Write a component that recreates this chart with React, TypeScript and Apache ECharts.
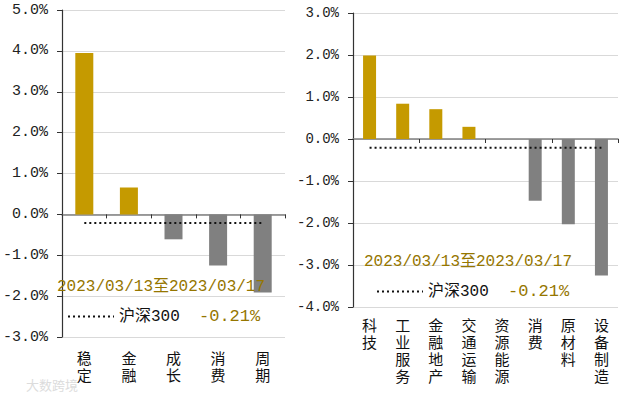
import React, { useEffect, useRef } from "react";
import * as echarts from "echarts";

const leftCats = ["稳定", "金融", "成长", "消费", "周期"];
const leftVals = [3.95, 0.66, -0.61, -1.25, -1.91];
const rightCats = ["科技", "工业服务", "金融地产", "交通运输", "资源能源", "消费", "原材料", "设备制造"];
const rightVals = [1.99, 0.84, 0.71, 0.29, 0.0, -1.47, -2.03, -3.25];
const hs300Name = "沪深300";
const hs300Value = -0.21;
const periodText = "2023/03/13至2023/03/17";
const leftTicks = { min: -3, max: 5, interval: 1 };
const rightTicks = { min: -4, max: 3, interval: 1 };

const GOLD = "#C59A00";
const GRAY = "#808080";
const TEXT_GOLD = "#957600";
const MONO = "Liberation Mono, Noto Sans CJK SC, monospace";
const CJK = "Noto Sans CJK SC, sans-serif";
const CHAR_PITCH = 17;

const pct = (v: number) => v.toFixed(1) + "%";

function yAxis(gridIndex: number, t: { min: number; max: number; interval: number }, fs: number) {
  return {
    type: "value",
    gridIndex,
    min: t.min,
    max: t.max,
    interval: t.interval,
    axisLine: { show: true, lineStyle: { color: "#333", width: 1.2 } },
    axisTick: { show: true, length: 5, lineStyle: { color: "#333" } },
    axisLabel: { formatter: pct, color: "#222", fontSize: fs, fontFamily: MONO, margin: 14 },
    splitLine: { show: true, lineStyle: { color: "#D9D9D9", width: 1 } },
  };
}

function zeroAxis(gridIndex: number, cats: string[]) {
  return {
    type: "category",
    gridIndex,
    data: cats,
    position: "bottom",
    axisLine: { show: true, onZero: true, lineStyle: { color: GRAY, width: 1.5 } },
    axisTick: { show: true, length: 4, lineStyle: { color: "#333" } },
    axisLabel: { show: false },
  };
}

// one axis per character row, so category names read top to bottom
function labelAxes(gridIndex: number, cats: string[], margin: number) {
  const rows = Math.max(...cats.map((c) => c.length));
  const out: any[] = [];
  for (let i = 0; i < rows; i++) {
    out.push({
      type: "category",
      gridIndex,
      data: cats,
      position: "bottom",
      axisLine: { show: false, onZero: false },
      axisTick: { show: false },
      axisLabel: {
        formatter: (s: string) => s.charAt(i),
        color: "#111",
        fontSize: 15,
        fontFamily: CJK,
        margin: margin + i * CHAR_PITCH,
        verticalAlign: "top",
        interval: 0,
      },
    });
  }
  return out;
}

function barColor(p: any) {
  return p.value >= 0 ? GOLD : GRAY;
}

export default function App() {
  const ref = useRef<HTMLDivElement>(null);
  useEffect(() => {
    if (!ref.current) return;
    const chart = echarts.init(ref.current, null, { renderer: "svg" });
    const legendCommon = {
      data: [hs300Name],
      orient: "horizontal",
      itemWidth: 46,
      itemHeight: 14,
      padding: 0,
      selectedMode: false,
      itemStyle: { opacity: 0 },
      lineStyle: { color: "#111", width: 2, type: [2, 3] },
      formatter: (n: string) => `{a|${n}}{b|${hs300Value.toFixed(2)}%}`,
      textStyle: {
        rich: {
          a: { fontSize: 16, fontFamily: MONO, color: "#111", width: 80 },
          b: { fontSize: 17, fontFamily: MONO, color: TEXT_GOLD },
        },
      },
    };
    const hsLine = (xi: number, yi: number, n: number) => ({
      type: "line",
      name: hs300Name,
      xAxisIndex: xi,
      yAxisIndex: yi,
      data: new Array(n).fill(hs300Value),
      symbol: "none",
      itemStyle: { color: "#111" },
      lineStyle: { color: "#111", width: 2, type: [2, 3] },
      z: 5,
    });
    const leftLabelAxes = labelAxes(0, leftCats, 13);
    const rightLabelAxes = labelAxes(1, rightCats, 10);
    const rightZeroIndex = 1 + leftLabelAxes.length;
    chart.setOption({
      animation: false,
      backgroundColor: "#fff",
      title: [
        {
          text: periodText,
          left: 57,
          top: 279,
          padding: 0,
          textStyle: { color: TEXT_GOLD, fontSize: 16, fontWeight: "normal", fontFamily: MONO },
        },
        {
          text: periodText,
          left: 364,
          top: 254,
          padding: 0,
          textStyle: { color: TEXT_GOLD, fontSize: 16, fontWeight: "normal", fontFamily: MONO },
        },
      ],
      legend: [
        { ...legendCommon, left: 67, top: 308 },
        { ...legendCommon, left: 376, top: 283 },
      ],
      grid: [
        { left: 62, top: 10, width: 223, height: 327 },
        { left: 353, top: 13, width: 265, height: 294 },
      ],
      xAxis: [
        zeroAxis(0, leftCats),
        ...leftLabelAxes,
        zeroAxis(1, rightCats),
        ...rightLabelAxes,
      ],
      yAxis: [yAxis(0, leftTicks, 15), yAxis(1, rightTicks, 14)],
      series: [
        {
          type: "bar",
          xAxisIndex: 0,
          yAxisIndex: 0,
          data: leftVals,
          barWidth: 18,
          itemStyle: { color: barColor },
        },
        hsLine(0, 0, leftCats.length),
        {
          type: "bar",
          xAxisIndex: rightZeroIndex,
          yAxisIndex: 1,
          data: rightVals,
          barWidth: 13,
          itemStyle: { color: barColor },
        },
        hsLine(rightZeroIndex, 1, rightCats.length),
      ],
      graphic: [
        {
          type: "text",
          left: 26,
          top: 378,
          style: { text: "大数跨境", fill: "#dcdcdc", fontSize: 13, fontFamily: CJK },
        },
      ],
    });
    return () => chart.dispose();
  }, []);
  return (
    <div
      ref={ref}
      style={{ position: "fixed", left: 0, top: 0, width: 619, height: 400 }}
    />
  );
}
